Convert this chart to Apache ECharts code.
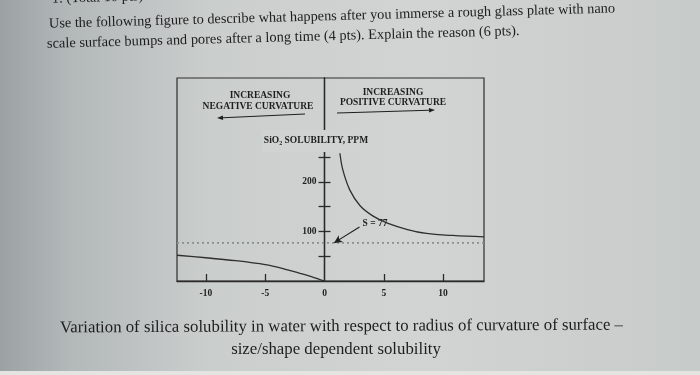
<!DOCTYPE html>
<html>
<head>
<meta charset="utf-8">
<script src="https://cdn.jsdelivr.net/npm/echarts@6/dist/echarts.min.js"></script>
<style>
html,body{margin:0;padding:0;background:#c8cccc;}
#chart{width:700px;height:375px;}
</style>
</head>
<body>
<div id="chart"></div>
<script>
// ---- data ----
const xTickValues = [-10, -5, 5, 10];
const xLabelValues = [-10, -5, 0, 5, 10];
const yTickValues = [50, 100, 150, 200, 250];
const yLabelValues = [100, 200];
const xRange = [-12.44, 13.45];
const yRange = [0, 410];
const yAxisAtX = 0;

// negative curvature branch (x = radius, y = SiO2 ppm)
const negX = [-12.44, -10, -7.5, -5, -3.5, -2, -1, 0];
const negY = [52, 47, 41, 33, 25, 15, 8, 0];
// positive curvature branch
const posX = [1.3, 1.55, 2.15, 3, 4.1, 5.3, 7, 8.6, 10.8, 13.45];
const posY = [258, 224, 183, 152, 131, 117, 104, 96, 92, 89];
// flat-surface solubility
const flatS = 77;
const flatLabel = 'S = 77';
const arrowFrom = [2.95, 109];
const arrowTo = [0.8, 77];

const questionLines = [
  'Use the following figure to describe what happens after you immerse a rough glass plate with nano',
  'scale surface bumps and pores after a long time (4 pts). Explain the reason (6 pts).'
];
const captionLines = [
  'Variation of silica solubility in water with respect to radius of curvature of surface \u2013',
  'size/shape dependent solubility'
];

const pair = (xs, ys) => xs.map((x, i) => [x, ys[i]]);

const serif = '"Liberation Serif", "DejaVu Serif", serif';
const ink = '#1e1e1e';
const paper = '#d0d3d2';

function arrowGraphic(x1, y1, x2, y2) {
  const dx = x2 - x1, dy = y2 - y1, L = Math.sqrt(dx*dx + dy*dy);
  const ux = dx / L, uy = dy / L, hl = 6, hw = 2.3;
  const bx = x2 - ux * hl, by = y2 - uy * hl;
  return {
    type: 'group',
    children: [
      {type: 'line', shape: {x1: x1, y1: y1, x2: bx, y2: by}, style: {stroke: ink, lineWidth: 1.1}},
      {type: 'polygon', shape: {points: [[x2, y2], [bx - uy*hw, by + ux*hw], [bx + uy*hw, by - ux*hw]]}, style: {fill: ink}}
    ]
  };
}

const chart = echarts.init(document.getElementById('chart'), null, {renderer: 'canvas'});

const axisLabelStyle = {fontFamily: serif, fontWeight: 'bold', fontSize: 9.5, color: ink};
const gridLeft = 177;
const plotFont = 'bold 9.5px ' + serif;

const option = {
  animation: false,
  backgroundColor: 'transparent',
  grid: {left: gridLeft, right: 216, top: 78, bottom: 94, show: true, borderColor: '#2e2e2e', borderWidth: 1.2, backgroundColor: 'transparent'},
  xAxis: {
    type: 'value', min: xRange[0], max: xRange[1],
    axisLine: {onZero: false, lineStyle: {color: '#2a2a2a', width: 1.3}},
    axisTick: {show: true, inside: true, length: 7, customValues: xTickValues, lineStyle: {color: '#2a2a2a', width: 1.3}},
    axisLabel: {customValues: xLabelValues, margin: 8, ...axisLabelStyle},
    splitLine: {show: false}
  },
  yAxis: [
    {
      type: 'value', min: yRange[0], max: yRange[1], position: 'left',
      axisLine: {show: true, onZero: false, lineStyle: {color: '#2a2a2a', width: 1.3}},
      axisTick: {show: true, inside: false, length: 6, customValues: yTickValues, lineStyle: {color: '#2a2a2a', width: 1.3}},
      axisLabel: {customValues: yLabelValues, margin: 8, ...axisLabelStyle},
      splitLine: {show: false}
    },
    {
      type: 'value', min: yRange[0], max: yRange[1], position: 'left',
      axisLine: {show: true, onZero: false, lineStyle: {color: '#2a2a2a', width: 1.3}},
      axisTick: {show: true, inside: true, length: 6, customValues: yTickValues, lineStyle: {color: '#2a2a2a', width: 1.3}},
      axisLabel: {show: false},
      splitLine: {show: false}
    }
  ],
  series: [
    {
      name: 'flat', type: 'line', data: [[xRange[0], flatS], [xRange[1], flatS]],
      symbol: 'none', lineStyle: {color: '#8a8f90', width: 1.6, type: [2, 3]}, z: 1,
      markLine: {
        silent: true, symbol: ['none', 'arrow'], symbolSize: [6, 8],
        lineStyle: {color: ink, width: 1.1, type: 'solid'},
        label: {show: false},
        data: [[{coord: arrowFrom}, {coord: arrowTo}]]
      }
    },
    {
      name: 'negative', type: 'line', data: pair(negX, negY), smooth: 0.3,
      symbol: 'none', lineStyle: {color: '#2f2f2f', width: 1.3}
    },
    {
      name: 'positive', type: 'line', data: pair(posX, posY), smooth: 0.4,
      symbol: 'none', lineStyle: {color: '#2f2f2f', width: 1.3}
    }
  ],
  graphic: [
    {type: 'rect', z: -100, silent: true, shape: {x: 0, y: 0, width: 700, height: 375},
      style: {fill: new echarts.graphic.LinearGradient(0, 0, 1, 0, [
        {offset: 0, color: '#9ca2a4'}, {offset: 0.1, color: '#b3b8b9'},
        {offset: 0.3, color: '#cacecd'}, {offset: 0.6, color: '#d1d4d3'}, {offset: 1, color: '#c7cbca'}])}},
    {type: 'rect', z: -99, silent: true, shape: {x: 0, y: 371, width: 700, height: 4}, style: {fill: '#e4e5e3'}},
    // question text
    {type: 'text', x: 52, y: -1, rotation: 0.027, style: {text: '1. (Total 10 pts)', font: '14.3px ' + serif, fill: ink, textVerticalAlign: 'middle'}},
    {type: 'text', x: 49, y: 24, rotation: 0.027, style: {text: questionLines[0], font: '14.3px ' + serif, fill: ink, textVerticalAlign: 'middle'}},
    {type: 'text', x: 47, y: 44, rotation: 0.027, style: {text: questionLines[1], font: '14.4px ' + serif, fill: ink, textVerticalAlign: 'middle'}},
    // caption
    {type: 'text', x: 60, y: 328, rotation: 0.005, style: {text: captionLines[0], font: '16.8px ' + serif, fill: ink, textVerticalAlign: 'middle'}},
    {type: 'text', x: 336, y: 350, style: {text: captionLines[1], font: '16.8px ' + serif, fill: ink, textAlign: 'center', textVerticalAlign: 'middle'}},
    // plot annotations
    {type: 'text', x: 260, y: 96, style: {text: 'INCREASING', font: plotFont, fill: ink, textAlign: 'center', textVerticalAlign: 'middle'}},
    {type: 'text', x: 258, y: 107, style: {text: 'NEGATIVE CURVATURE', font: plotFont, fill: ink, textAlign: 'center', textVerticalAlign: 'middle'}},
    {type: 'text', x: 393, y: 93, style: {text: 'INCREASING', font: plotFont, fill: ink, textAlign: 'center', textVerticalAlign: 'middle'}},
    {type: 'text', x: 393, y: 103, style: {text: 'POSITIVE CURVATURE', font: plotFont, fill: ink, textAlign: 'center', textVerticalAlign: 'middle'}},
    arrowGraphic(305, 114, 217, 118),
    arrowGraphic(337, 113, 435, 110),
    {type: 'text', x: 316, y: 141, z: 100, style: {
      text: '{a|SiO}{s|2}{a| SOLUBILITY, PPM}', textAlign: 'center', textVerticalAlign: 'middle',
      backgroundColor: paper, padding: [6, 2, 6, 2],
      rich: {a: {font: plotFont, fill: ink}, s: {font: 'bold 6px ' + serif, fill: ink, padding: [4, 0, 0, 0]}}
    }},
    {type: 'text', x: 375, y: 224, style: {text: flatLabel, font: plotFont, fill: ink, textAlign: 'center', textVerticalAlign: 'middle'}}
  ]
};
chart.setOption(option);

// place the vertical (solubility) axis at x = 0 of the horizontal scale
const px0 = chart.convertToPixel({xAxisIndex: 0}, yAxisAtX);
const off = -(px0 - gridLeft);
chart.setOption({yAxis: [{offset: off}, {offset: off}]});
</script>
</body>
</html>
